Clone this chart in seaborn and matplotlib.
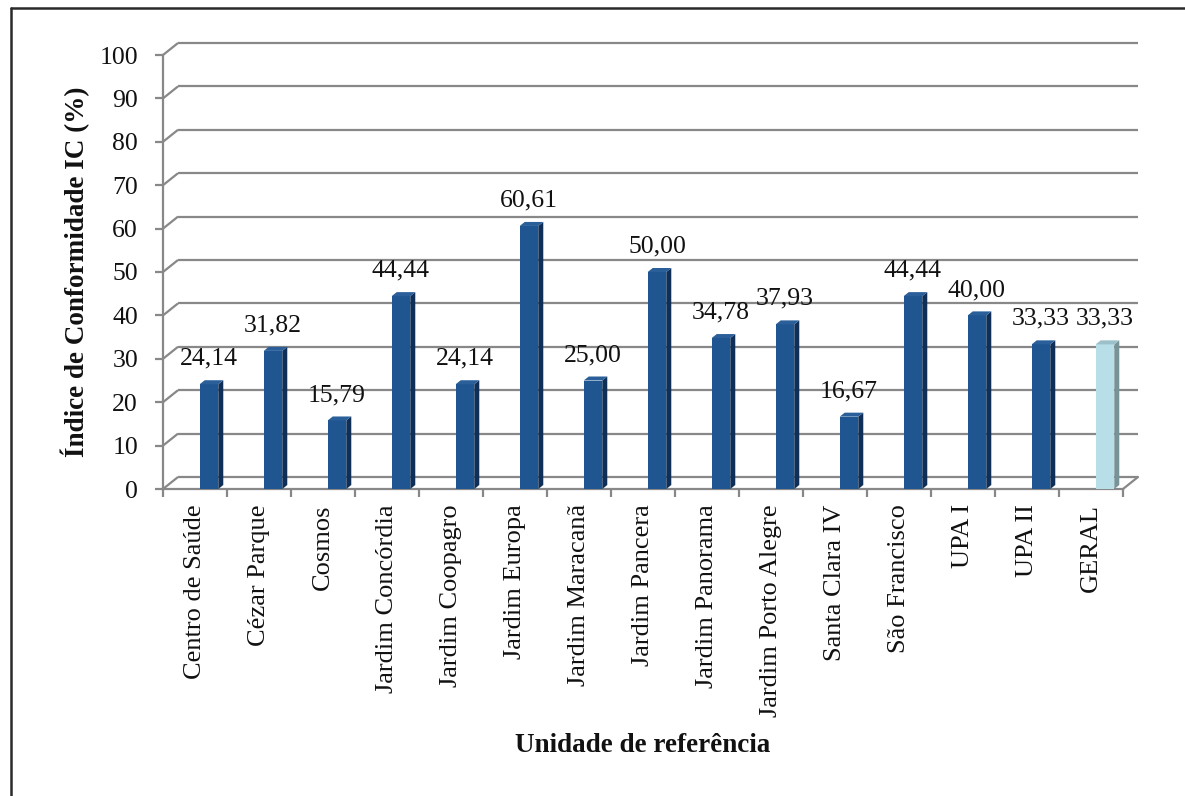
import numpy as np
import pandas as pd
import matplotlib
matplotlib.use("Agg")
import matplotlib.pyplot as plt
from matplotlib.patches import Polygon
from matplotlib.lines import Line2D
import seaborn as sns

# Data
units = ["Centro de Saúde", "Cézar Parque", "Cosmos", "Jardim Concórdia",
         "Jardim Coopagro", "Jardim Europa", "Jardim Maracanã", "Jardim Pancera",
         "Jardim Panorama", "Jardim Porto Alegre", "Santa Clara IV",
         "São Francisco", "UPA I", "UPA II", "GERAL"]
ic_values = [24.14, 31.82, 15.79, 44.44, 24.14, 60.61, 25.00, 50.00,
             34.78, 37.93, 16.67, 44.44, 40.00, 33.33, 33.33]
y_ticks = list(range(0, 101, 10))

df = pd.DataFrame({"unidade": units, "ic": ic_values})

# Face colours (front, side, top) for regular units and the overall bar
front_main, side_main, top_main = "#1F5590", "#0F2F58", "#2A5F99"
front_geral, side_geral, top_geral = "#B8DEE8", "#789398", "#9CC0C9"
front_cols = [front_main] * (len(units) - 1) + [front_geral]
side_cols = [side_main] * (len(units) - 1) + [side_geral]
top_cols = [top_main] * (len(units) - 1) + [top_geral]

sns.set_theme(style="white")
plt.rcParams["font.family"] = ["Liberation Serif", "DejaVu Serif"]

TXT = "#111111"
DPI = 100
W, H = 1185, 796
fig = plt.figure(figsize=(W / DPI, H / DPI), dpi=DPI)
ax = fig.add_axes([163 / W, (H - 489) / H, 960 / W, 434 / H])

sns.barplot(data=df, x="unidade", y="ic", hue="unidade", palette=front_cols,
            legend=False, width=0.29, saturation=1, ax=ax, zorder=3,
            edgecolor="none")
ax.set_xlim(-0.5, len(units) - 0.5)
ax.set_ylim(0, 100)

grid_col = "#888888"
lw = 1.6

# Pixel-offset helper: data point shifted by (px, py) display pixels
def shifted(x, y, px, py):
    disp = ax.transData.transform((x, y))
    return ax.transData.inverted().transform((disp[0] + px, disp[1] + py))

WALL_DX, WALL_DY = 15, 12   # depth of the back wall
BAR_SHIFT = 14              # bars sit back from the category centre
BAR_DX, BAR_DY = 5, 4       # depth of each column

# Back wall gridlines with their diagonal connectors on the left side wall
x0, x1 = -0.5, len(units) - 0.5
for v in y_ticks:
    bx0, by = shifted(x0, v, WALL_DX, WALL_DY)
    bx1, _ = shifted(x1, v, WALL_DX, WALL_DY)
    ax.plot([x0, bx0], [v, by], color=grid_col, lw=lw, zorder=1,
            clip_on=False, solid_capstyle="butt")
    ax.plot([bx0, bx1], [by, by], color=grid_col, lw=lw, zorder=1,
            clip_on=False, solid_capstyle="butt")
# Right edge of the floor
fx, fy = shifted(x1, 0, WALL_DX, WALL_DY)
ax.plot([x1, fx], [0, fy], color=grid_col, lw=lw, zorder=1, clip_on=False)

# Shift the seaborn bars and add their side and top faces
fig.canvas.draw()
for i, patch in enumerate(ax.patches[:len(units)]):
    bx, bw = patch.get_x(), patch.get_width()
    h = patch.get_height()
    nx, _ = shifted(bx, 0, BAR_SHIFT, 0)
    patch.set_x(nx)
    left, right = nx, nx + bw
    r_top = shifted(right, h, BAR_DX, BAR_DY)
    r_bot = shifted(right, 0, BAR_DX, BAR_DY)
    l_top = shifted(left, h, BAR_DX, BAR_DY)
    side = Polygon([(right, 0), (right, h), r_top, r_bot], closed=True,
                   facecolor=side_cols[i], edgecolor="none", zorder=3)
    top = Polygon([(left, h), (right, h), r_top, l_top], closed=True,
                  facecolor=top_cols[i], edgecolor="none", zorder=3)
    ax.add_patch(side)
    ax.add_patch(top)
    cx = (left + right) / 2
    ax.annotate(f"{ic_values[i]:.2f}".replace(".", ","), xy=(cx, h),
                xytext=(0, 14), textcoords="offset points",
                ha="center", va="baseline", fontsize=18.5, color=TXT,
                zorder=5, annotation_clip=False)

# Axes styling
for s in ["top", "right"]:
    ax.spines[s].set_visible(False)
for s in ["left", "bottom"]:
    ax.spines[s].set_color(grid_col)
    ax.spines[s].set_linewidth(lw)
ax.set_yticks(y_ticks)
ax.set_yticklabels([str(t) for t in y_ticks], fontsize=18.5)
ax.tick_params(axis="y", length=6, width=lw, color=grid_col, pad=12,
               left=True, labelcolor=TXT)
ax.set_xticks(range(len(units)))
ax.set_xticklabels(units, rotation=90, fontsize=19, color=TXT)
ax.set_xticks(np.arange(-0.5, len(units), 1.0), minor=True)
ax.tick_params(axis="x", which="major", length=0, pad=11)
ax.tick_params(axis="x", which="minor", length=5.5, width=lw,
               color=grid_col, bottom=True)
ax.set_xlabel("")
ax.set_ylabel("")
ax.grid(False)

fig.text(75 / W, 1 - 272 / H, "Índice de Conformidade IC (%)", rotation=90,
         ha="center", va="center", fontsize=19.5, fontweight="bold",
         color=TXT)
fig.text(643 / W, 1 - 745 / H, "Unidade de referência", ha="center",
         va="center", fontsize=19.5, fontweight="bold", color=TXT)

# Frame around the chart
frame_col = "#2a2a2a"
fig.add_artist(Line2D([10.5 / W, 10.5 / W], [0, 1 - 7.5 / H],
                      transform=fig.transFigure, color=frame_col, lw=1.8))
fig.add_artist(Line2D([10.5 / W, 1], [1 - 7.5 / H, 1 - 7.5 / H],
                      transform=fig.transFigure, color=frame_col, lw=1.8))

fig.savefig("out.png", dpi=DPI, facecolor="white")
